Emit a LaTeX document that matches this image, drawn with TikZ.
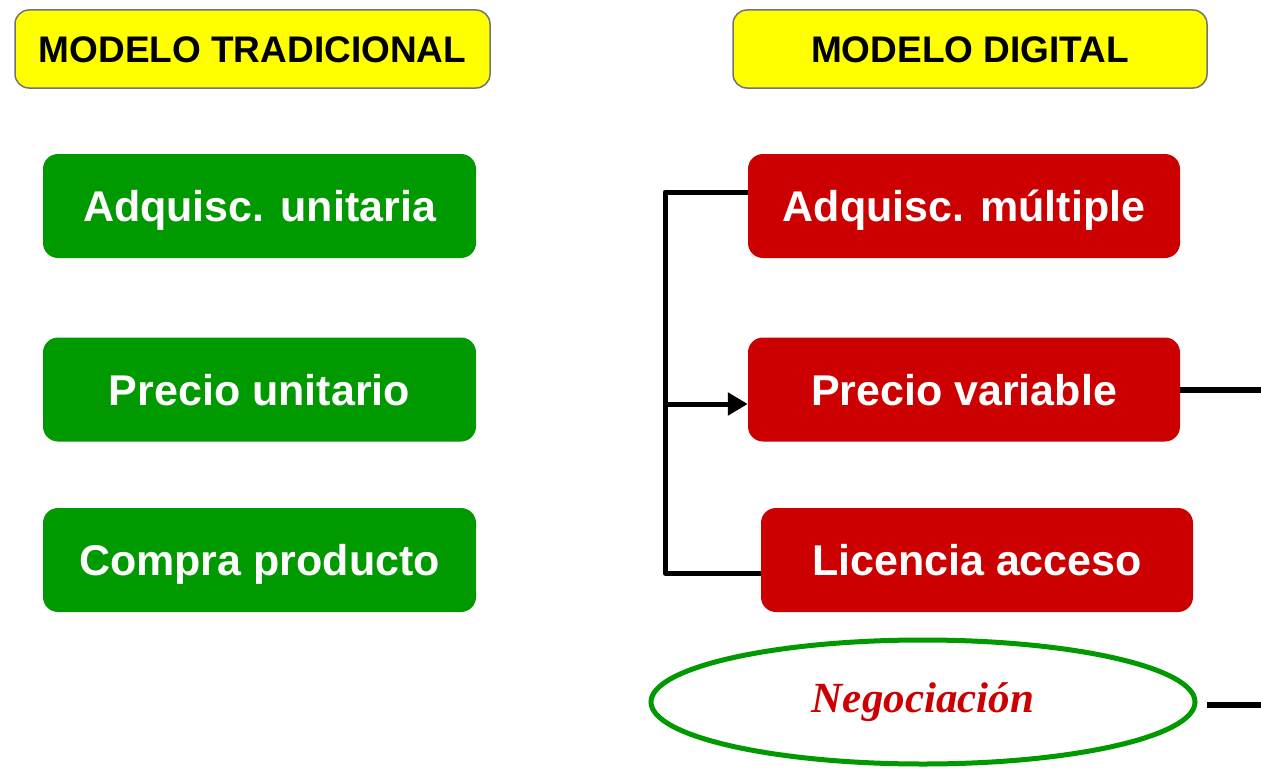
\documentclass[tikz,border=0pt]{standalone}
\usepackage{fontspec}
\setmainfont{Liberation Sans}
\newfontfamily\negfont{Liberation Serif}
\usetikzlibrary{shapes.geometric,arrows.meta}
\definecolor{boxgreen}{RGB}{0,153,0}
\definecolor{boxred}{RGB}{204,0,0}
\definecolor{hdryellow}{RGB}{255,255,0}
\tikzset{
  hdr/.style={draw=black!55, line width=1.5pt, fill=hdryellow, rounded corners=14pt,
    minimum height=78pt, inner sep=0pt, text height=26.5pt, text depth=0pt,
    font=\fontsize{37}{44}\selectfont\bfseries},
  gbox/.style={fill=boxgreen, rounded corners=15pt, minimum width=433pt, minimum height=104pt,
    inner sep=0pt, text height=31pt, text depth=0pt, text=white,
    font=\fontsize{43}{50}\selectfont\bfseries},
  rbox/.style={gbox, fill=boxred},
  conn/.style={line width=5pt, line join=round},
  negell/.style={ellipse, draw=boxgreen, line width=5pt, minimum width=544pt, minimum height=124pt,
    inner sep=0pt, text=boxred, font=\negfont\fontsize{43}{50}\selectfont\bfseries\itshape}
}
\begin{document}
\begin{tikzpicture}[x=1pt,y=-1pt]
\useasboundingbox (0,0) rectangle (1261,768);
\fill[white] (0,0) rectangle (1261,768);
\node[hdr, minimum width=475pt] (h1) at (252.5,49) {MODELO TRADICIONAL};
\node[hdr, minimum width=474pt] (h2) at (970,49) {MODELO DIGITAL};
\node[gbox] (g1) at (259.5,206) {Adquisc. unitaria};
\node[gbox] (g2) at (259.5,389.5) {Precio unitario};
\node[gbox] (g3) at (259.5,560) {Compra producto};
\node[rbox, minimum width=432pt] (r1) at (964,206) {Adquisc. múltiple};
\node[rbox, minimum width=432pt] (r2) at (964,389.5) {Precio variable};
\node[rbox, minimum width=432pt] (r3) at (977,560) {Licencia acceso};
\node[negell] (neg) at (923,702) {Negociación};
\coordinate (bt) at (665,192);
\coordinate (bm) at (665,404);
\coordinate (bb) at (665,573);
\coordinate (e2) at (1261,390);
\coordinate (n1) at (1207,705);
\coordinate (n2) at (1261,705);
\draw[conn] ([yshift=14pt]r1.west) -- (bt) -- (bb) -- ([yshift=-13pt]r3.west);
\draw[conn, -{Triangle[length=20pt,width=22pt]}] (bm) -- (bm -| r2.west);
\draw[line width=6.5pt] ([yshift=-0.5pt]r2.east) -- (e2);
\draw[line width=6.5pt] (n1) -- (n2);
\end{tikzpicture}
\end{document}
